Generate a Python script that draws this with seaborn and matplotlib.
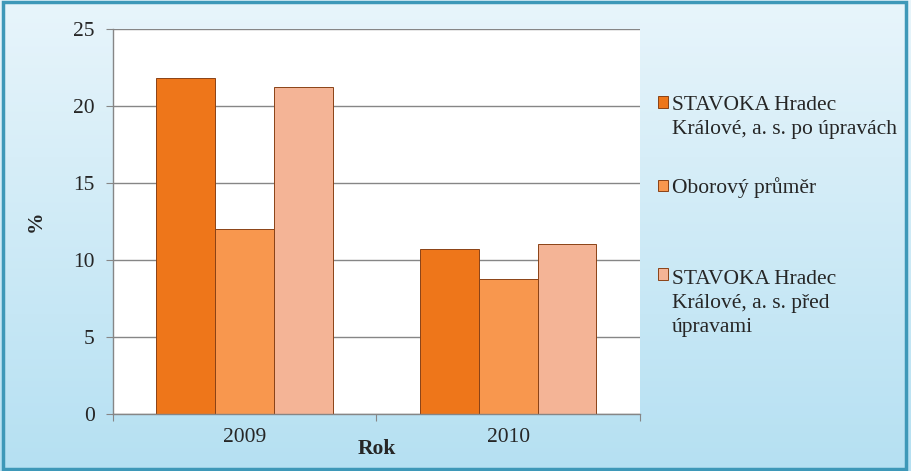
import numpy as np
import pandas as pd
import matplotlib.pyplot as plt
import seaborn as sns
from matplotlib.colors import LinearSegmentedColormap

years = ["2009", "2010"]
series_names = [
    "STAVOKA Hradec\nKrálové, a. s. po úpravách",
    "Oborový průměr",
    "STAVOKA Hradec\nKrálové, a. s. před\núpravami",
]
po_upravach = [21.8, 10.7]
oborovy_prumer = [12.05, 8.8]
pred_upravami = [21.25, 11.05]

colors = ["#EE761A", "#F8974E", "#F4B496"]

df = pd.DataFrame({
    "Rok": years * 3,
    "serie": [series_names[0]] * 2 + [series_names[1]] * 2 + [series_names[2]] * 2,
    "hodnota": po_upravach + oborovy_prumer + pred_upravami,
})

sns.set_style("white")
plt.rcParams["font.family"] = ["Liberation Serif", "DejaVu Serif"]
FS = 15.5

fig = plt.figure(figsize=(9.11, 4.71), dpi=100)

# light blue gradient background with a frame
bg = fig.add_axes([0, 0, 1, 1], zorder=-10)
grad = np.linspace(0, 1, 256).reshape(-1, 1)
cmap = LinearSegmentedColormap.from_list("bg", ["#E8F5FB", "#B5E0F2"])
bg.imshow(grad, aspect="auto", cmap=cmap, extent=[0, 1, 0, 1])
bg.set_xlim(0, 1)
bg.set_ylim(0, 1)
bg.axis("off")
bg.add_patch(plt.Rectangle((0.003, 0.005), 0.992, 0.99, fill=False,
                           edgecolor="#3E98B8", linewidth=2.5,
                           transform=bg.transAxes))

ax = fig.add_axes([0.124, 0.121, 0.5785, 0.817])
sns.barplot(data=df, x="Rok", y="hodnota", hue="serie", palette=colors,
            saturation=1, width=0.67, edgecolor="#8A4216", linewidth=0.7, ax=ax)

ax.set_facecolor("white")
ax.set_ylim(0, 25)
ax.set_xlim(-0.5, 1.5)
ax.set_yticks([0, 5, 10, 15, 20, 25])
ax.yaxis.grid(True, color="#868686", linewidth=1)
ax.set_axisbelow(True)
for s in ["top", "right"]:
    ax.spines[s].set_visible(False)
for s in ["left", "bottom"]:
    ax.spines[s].set_color("#868686")
    ax.spines[s].set_linewidth(1)

ax.set_xticks([-0.5, 0.5, 1.5])
ax.set_xticklabels([])
ax.set_xticks([0, 1], minor=True)
ax.set_xticklabels(years, minor=True, fontsize=FS)
ax.tick_params(axis="x", which="major", length=5, color="#868686", direction="out", bottom=True)
ax.tick_params(axis="x", which="minor", length=0, pad=10)
ax.tick_params(axis="y", length=5, color="#868686", direction="out", left=True, labelsize=FS, pad=8)

ax.set_xlabel("Rok", fontsize=FS, fontweight="bold", labelpad=-6)
ax.set_ylabel("%", fontsize=FS, fontweight="bold", labelpad=20)

# Excel spreads the legend entries unevenly, so use two legends
handles, labels = ax.get_legend_handles_labels()
ax.get_legend().remove() if ax.get_legend() else None
leg_kw = dict(frameon=False, fontsize=FS, handlelength=0.45, handleheight=0.45,
              handletextpad=0.2, borderaxespad=0, borderpad=0, loc="upper left")
leg1 = ax.legend(handles[:2], labels[:2], bbox_to_anchor=(1.034, 0.827),
                 labelspacing=1.8, **leg_kw)
ax.add_artist(leg1)
leg2 = ax.legend(handles[2:], labels[2:], bbox_to_anchor=(1.034, 0.374), **leg_kw)

line_h = FS * 1.35
for leg in (leg1, leg2):
    for t, h in zip(leg.get_texts(), leg.legend_handles):
        t.set_linespacing(1.35)
        h.set_edgecolor("#8A4216")
        # square marker sits beside the first line of the label
        n = t.get_text().count("\n")
        h.set_y(h.get_y() + n * line_h / 2)

fig.savefig("out.png", dpi=100)
